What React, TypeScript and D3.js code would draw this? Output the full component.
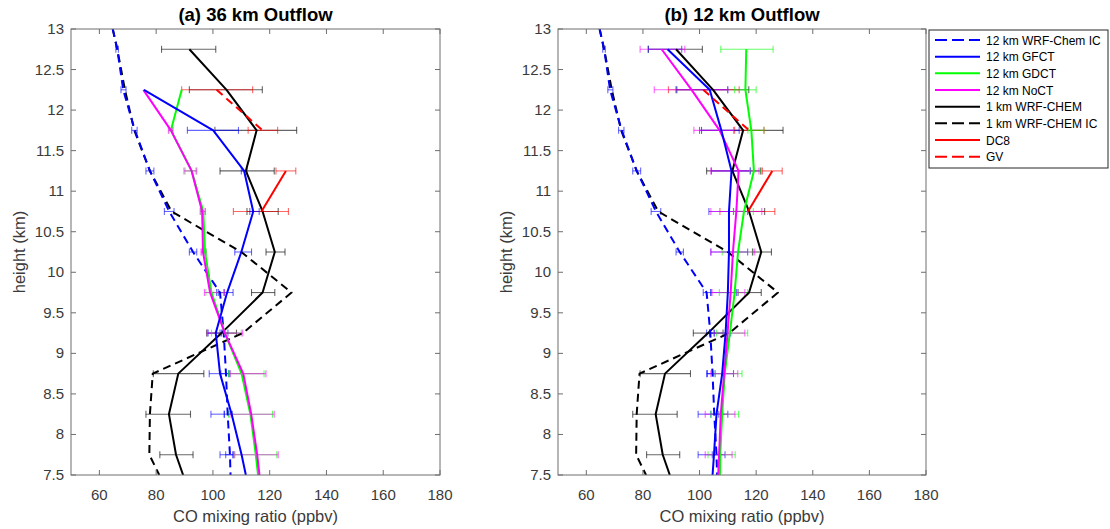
import React from "react";
import * as d3 from "d3";

// ---------- data ----------
const xTicks = [60, 80, 100, 120, 140, 160, 180];
const yTicks = [7.5, 8, 8.5, 9, 9.5, 10, 10.5, 11, 11.5, 12, 12.5, 13];

// shared series (same in both panels)
const icHeights = [13, 12.75, 12.25, 11.75, 11.25, 10.75, 10.25, 9.75, 9.25, 8.75, 8.25, 7.75, 7.5];
const icCO = [64.7, 66.3, 68.4, 72.5, 77.8, 84.6, 93.0, 102.5, 103.8, 104.6, 105.2, 106.0, 106.2];

const oneKmIcHeights = [13, 12.75, 12.25, 11.75, 11.25, 10.75, 10.25, 9.75, 9.25, 8.75, 8.25, 7.75, 7.5];
const oneKmIcCO = [64.7, 66.3, 69.0, 72.3, 77.8, 85.4, 110.0, 127.7, 110.5, 78.8, 77.8, 77.6, 81.1];

const oneKmHeights = [12.75, 12.25, 11.75, 11.25, 10.75, 10.25, 9.75, 9.25, 8.75, 8.25, 7.75, 7.5];
const oneKmCO = [91.7, 104.8, 115.4, 111.6, 117.5, 121.8, 117.5, 103.0, 87.8, 84.5, 87.0, 89.5];

const dc8Heights = [11.25, 10.75];
const dc8CO = [125.7, 117.1];
const gvHeights = [12.25, 11.75];
const gvCO = [101.3, 117.5];

// panel (a) 36 km
const aHeights = [12.25, 11.75, 11.25, 10.75, 10.25, 9.75, 9.25, 8.75, 8.25, 7.75, 7.5];
const aGFCT = [75.7, 100.1, 111.0, 114.2, 110.0, 105.0, 101.0, 102.5, 106.6, 110.1, 111.6];
const aGDCT = [89.0, 85.2, 92.5, 96.6, 97.2, 99.5, 104.2, 110.1, 113.2, 115.1, 115.9];
const aNoCT = [75.5, 85.2, 92.5, 96.2, 96.5, 99.0, 104.2, 110.7, 113.5, 115.6, 116.4];

// panel (b) 12 km
const bHeights = [12.75, 12.25, 11.75, 11.25, 10.75, 10.25, 9.75, 9.25, 8.75, 8.25, 7.75, 7.5];
const bGFCT = [88.7, 103.6, 107.7, 111.3, 110.4, 110.4, 110.0, 109.2, 108.0, 106.0, 105.1, 104.6];
const bGDCT = [116.5, 116.2, 118.3, 119.2, 115.7, 113.6, 112.4, 110.7, 108.9, 108.0, 107.3, 107.2];
const bNoCT = [86.6, 97.2, 107.1, 113.8, 113.0, 111.8, 111.0, 109.9, 108.7, 107.5, 106.9, 106.6];

// error bars
const errHeights = [12.75, 12.25, 11.75, 11.25, 10.75, 10.25, 9.75, 9.25, 8.75, 8.25, 7.75];
const icLo = [65.8, 67.6, 71.4, 76.4, 82.9, 91.7, 101.3, 102.5, 102.8, 104.0, 104.5];
const icHi = [66.7, 69.4, 73.3, 79.2, 86.3, 94.3, 104.0, 105.3, 105.5, 106.8, 107.0];
const oneKmLo = [81.9, 91.7, 100.7, 102.5, 112.0, 118.7, 113.6, 97.8, 79.0, 76.4, 81.3];
const oneKmHi = [101.0, 117.4, 129.5, 121.6, 123.0, 125.4, 121.8, 108.3, 96.8, 92.1, 93.0];

const dc8ErrLo = [122.2, 107.2];
const dc8ErrHi = [129.2, 126.6];
const gvErrLo = [89.0, 112.4];
const gvErrHi = [114.0, 122.8];

const aErrHeights = [11.75, 11.25, 10.75, 10.25, 9.75, 9.25, 8.75, 8.25, 7.75];
const aGFCTLo = [91.0, 110.0, 113.0, 107.7, 101.9, 98.3, 98.7, 99.3, 102.5];
const aGFCTHi = [109.0, 112.0, 116.3, 113.6, 107.1, 103.0, 106.0, 104.0, 107.2];
const aGDCTLo = [84.6, 90.2, 95.7, 96.0, 97.5, 99.5, 105.5, 105.5, 107.5];
const aGDCTHi = [86.0, 94.0, 97.4, 97.8, 103.8, 110.0, 118.0, 121.0, 122.5];
const aNoCTLo = [84.3, 89.8, 95.5, 95.8, 97.0, 98.0, 106.0, 106.0, 107.7];
const aNoCTHi = [85.8, 94.3, 97.2, 97.5, 104.0, 110.5, 118.7, 121.6, 123.0];

const bGFCTLo = [81.9, 92.0, 100.0, 104.2, 103.3, 104.0, 104.0, 103.5, 102.5, 99.5, 99.5];
const bGFCTHi = [93.7, 110.0, 114.0, 118.0, 117.0, 117.0, 113.0, 111.0, 112.0, 110.0, 109.0];
const bGDCTLo = [107.5, 112.4, 117.1, 117.7, 112.0, 108.0, 107.0, 106.0, 105.0, 104.0, 103.0];
const bGDCTHi = [126.0, 120.0, 122.7, 121.8, 119.0, 119.0, 117.0, 117.0, 115.0, 113.8, 112.6];
const bNoCTLo = [79.0, 84.0, 98.0, 104.0, 104.0, 104.0, 104.4, 105.0, 104.0, 102.0, 102.0];
const bNoCTHi = [94.8, 109.9, 112.0, 121.0, 122.0, 119.5, 116.0, 116.0, 113.5, 112.5, 111.5];

const legendLabels = [
  "12 km WRF-Chem IC",
  "12 km GFCT",
  "12 km GDCT",
  "12 km NoCT",
  "1 km WRF-CHEM",
  "1 km WRF-CHEM IC",
  "DC8",
  "GV",
];
const legendColors = ["#0000ff", "#0000ff", "#00ff00", "#ff00ff", "#000000", "#000000", "#ff0000", "#ff0000"];
const legendDashed = [true, false, false, false, false, true, false, true];

// ---------- layout ----------
const W = 1110;
const H = 529;
const TOP = 29;
const BOTTOM = 475;
const FONT = "'Liberation Sans', Arial, Helvetica, sans-serif";
const DASH = "8,5";

type Series = { h: number[]; v: number[]; color: string; dashed: boolean };
type Err = { h: number[]; lo: number[]; hi: number[]; color: string };

function Panel(props: {
  id: string;
  left: number;
  right: number;
  title: string;
  series: Series[];
  errs: Err[];
}) {
  const { id, left, right, title, series, errs } = props;
  const x = d3.scaleLinear().domain([50, 180]).range([left, right]);
  const y = d3.scaleLinear().domain([7.5, 13]).range([BOTTOM, TOP]);
  const line = d3
    .line<[number, number]>()
    .x((d) => x(d[1]))
    .y((d) => y(d[0]));
  const tl = 5;
  return (
    <g>
      <defs>
        <clipPath id={"clip-" + id}>
          <rect x={left} y={TOP} width={right - left} height={BOTTOM - TOP} />
        </clipPath>
      </defs>
      <rect x={left} y={TOP} width={right - left} height={BOTTOM - TOP} fill="#fff" />
      <g clipPath={`url(#clip-${id})`}>
        {errs.map((e, i) => (
          <g key={"e" + i} stroke={e.color} strokeWidth={1.1} strokeOpacity={0.6} fill="none">
            {e.h.map((h, j) => {
              const yy = y(h);
              const x1 = x(e.lo[j]);
              const x2 = x(e.hi[j]);
              return (
                <g key={j}>
                  <line x1={x1} x2={x2} y1={yy} y2={yy} />
                  <line x1={x1} x2={x1} y1={yy - 3.5} y2={yy + 3.5} />
                  <line x1={x2} x2={x2} y1={yy - 3.5} y2={yy + 3.5} />
                </g>
              );
            })}
          </g>
        ))}
        {series.map((s, i) => (
          <path
            key={"s" + i}
            d={line(s.h.map((h, j) => [h, s.v[j]] as [number, number])) || ""}
            fill="none"
            stroke={s.color}
            strokeWidth={2}
            strokeDasharray={s.dashed ? DASH : undefined}
            strokeLinejoin="round"
          />
        ))}
      </g>
      {/* frame */}
      <rect x={left} y={TOP} width={right - left} height={BOTTOM - TOP} fill="none" stroke="#6e6e6e" strokeWidth={1} />
      {/* ticks */}
      <g stroke="#6e6e6e" strokeWidth={1}>
        {xTicks.map((t) => (
          <g key={"xt" + t}>
            <line x1={x(t)} x2={x(t)} y1={BOTTOM} y2={BOTTOM - tl} />
            <line x1={x(t)} x2={x(t)} y1={TOP} y2={TOP + tl} />
          </g>
        ))}
        {yTicks.map((t) => (
          <g key={"yt" + t}>
            <line x1={left} x2={left + tl} y1={y(t)} y2={y(t)} />
            <line x1={right} x2={right - tl} y1={y(t)} y2={y(t)} />
          </g>
        ))}
      </g>
      <g fontFamily={FONT} fontSize={15} fill="#3a3a3a">
        {xTicks.map((t) => (
          <text key={"xl" + t} x={x(t)} y={BOTTOM + 25} textAnchor="middle">
            {t}
          </text>
        ))}
        {yTicks.map((t) => (
          <text key={"yl" + t} x={left - 7} y={y(t) + 5} textAnchor="end">
            {t}
          </text>
        ))}
      </g>
      <text
        x={(left + right) / 2}
        y={BOTTOM + 47}
        textAnchor="middle"
        fontFamily={FONT}
        fontSize={16.5}
        fill="#3a3a3a"
      >
        CO mixing ratio (ppbv)
      </text>
      <text
        transform={`translate(${left - 46},${(TOP + BOTTOM) / 2}) rotate(-90)`}
        textAnchor="middle"
        fontFamily={FONT}
        fontSize={16.5}
        fill="#3a3a3a"
      >
        height (km)
      </text>
      <text
        x={(left + right) / 2}
        y={21}
        textAnchor="middle"
        fontFamily={FONT}
        fontSize={18.5}
        fontWeight="bold"
        fill="#000"
      >
        {title}
      </text>
    </g>
  );
}

function sharedSeries(): Series[] {
  return [
    { h: oneKmIcHeights, v: oneKmIcCO, color: "#000000", dashed: true },
    { h: oneKmHeights, v: oneKmCO, color: "#000000", dashed: false },
    { h: icHeights, v: icCO, color: "#0000ff", dashed: true },
  ];
}

export default function App() {
  const aSeries: Series[] = [
    ...sharedSeries(),
    { h: aHeights, v: aGDCT, color: "#00ff00", dashed: false },
    { h: aHeights, v: aNoCT, color: "#ff00ff", dashed: false },
    { h: aHeights, v: aGFCT, color: "#0000ff", dashed: false },
    { h: dc8Heights, v: dc8CO, color: "#ff0000", dashed: false },
    { h: gvHeights, v: gvCO, color: "#ff0000", dashed: true },
  ];
  const bSeries: Series[] = [
    ...sharedSeries(),
    { h: bHeights, v: bGDCT, color: "#00ff00", dashed: false },
    { h: bHeights, v: bNoCT, color: "#ff00ff", dashed: false },
    { h: bHeights, v: bGFCT, color: "#0000ff", dashed: false },
    { h: dc8Heights, v: dc8CO, color: "#ff0000", dashed: false },
    { h: gvHeights, v: gvCO, color: "#ff0000", dashed: true },
  ];
  const sharedErrs: Err[] = [
    { h: errHeights, lo: icLo, hi: icHi, color: "#0000ff" },
    { h: errHeights, lo: oneKmLo, hi: oneKmHi, color: "#000000" },
    { h: dc8Heights, lo: dc8ErrLo, hi: dc8ErrHi, color: "#ff0000" },
    { h: gvHeights, lo: gvErrLo, hi: gvErrHi, color: "#ff0000" },
  ];
  const aErrs: Err[] = [
    ...sharedErrs,
    { h: aErrHeights, lo: aGFCTLo, hi: aGFCTHi, color: "#0000ff" },
    { h: aErrHeights, lo: aGDCTLo, hi: aGDCTHi, color: "#00ff00" },
    { h: aErrHeights, lo: aNoCTLo, hi: aNoCTHi, color: "#ff00ff" },
  ];
  const bErrs: Err[] = [
    ...sharedErrs,
    { h: errHeights, lo: bGFCTLo, hi: bGFCTHi, color: "#0000ff" },
    { h: errHeights, lo: bGDCTLo, hi: bGDCTHi, color: "#00ff00" },
    { h: errHeights, lo: bNoCTLo, hi: bNoCTHi, color: "#ff00ff" },
  ];

  const lgX = 929;
  const lgY = 30;
  const lgW = 179;
  const lgH = 138;
  const rowH = 16.67;

  return (
    <svg
      width={W}
      height={H}
      viewBox={`0 0 ${W} ${H}`}
      style={{ position: "absolute", left: 0, top: 0, background: "#fff" }}
    >
      <rect x={0} y={0} width={W} height={H} fill="#fff" />
      <Panel id="a" left={71} right={440} title="(a) 36 km Outflow" series={aSeries} errs={aErrs} />
      <Panel id="b" left={558} right={926} title="(b) 12 km Outflow" series={bSeries} errs={bErrs} />
      <g>
        <rect x={lgX} y={lgY} width={lgW} height={lgH} fill="#fff" stroke="#262626" strokeWidth={1} />
        {legendLabels.map((lab, i) => {
          const yy = lgY + 10 + i * rowH;
          return (
            <g key={lab}>
              <line
                x1={lgX + 6}
                x2={lgX + 51}
                y1={yy}
                y2={yy}
                stroke={legendColors[i]}
                strokeWidth={2}
                strokeDasharray={legendDashed[i] ? "12,5" : undefined}
              />
              <text x={lgX + 57} y={yy + 4.5} fontFamily={FONT} fontSize={12} fill="#000">
                {lab}
              </text>
            </g>
          );
        })}
      </g>
    </svg>
  );
}
